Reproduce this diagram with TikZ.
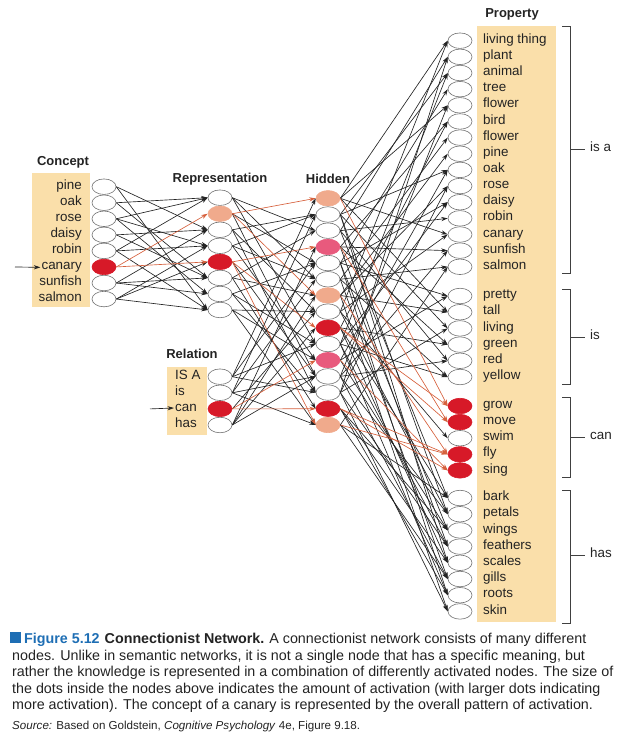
\documentclass[tikz,border=0pt]{standalone}
\usepackage{fontspec}
\setmainfont{Liberation Sans}
\usetikzlibrary{shapes.geometric,arrows.meta}
\definecolor{boxfill}{RGB}{250,223,170}
\definecolor{actred}{RGB}{215,25,40}
\definecolor{actsalmon}{RGB}{240,170,140}
\definecolor{actpink}{RGB}{232,90,125}
\definecolor{edgered}{RGB}{214,96,60}
\definecolor{capblue}{RGB}{30,110,180}
\definecolor{ink}{RGB}{35,35,35}
\tikzset{
  unit/.style={ellipse, draw=black!55, line width=0.6pt, minimum width=24pt, minimum height=15.5pt, inner sep=0pt, fill=white},
  ured/.style={unit, fill=actred, draw=actred},
  usal/.style={unit, fill=actsalmon, draw=actsalmon},
  upink/.style={unit, fill=actpink, draw=actpink},
  lbl/.style={font=\fontsize{13.4}{15}\selectfont, text=ink, inner sep=1pt},
  hdr/.style={font=\fontsize{13}{15}\selectfont\bfseries, text=ink, inner sep=1pt},
  conn/.style={-{Stealth[length=6.5pt,width=4.2pt]}, line width=0.65pt, draw=ink},
  rconn/.style={conn, draw=edgered},
  brk/.style={line width=0.9pt, draw=black!75},
  captxt/.style={font=\fontsize{14.3}{16}\selectfont, text=ink, inner sep=0pt, anchor=base west},
}
\begin{document}
\begin{tikzpicture}[x=1pt,y=-1pt]
\useasboundingbox (0,0) rectangle (625,743);
% boxes
\fill[boxfill] (32,173) rectangle (90,307);
\fill[boxfill] (167,367) rectangle (207,435);
\fill[boxfill] (477,26) rectangle (556,622);
% headers
\node[hdr] (hConcept) at (63,162) {Concept};
\node[hdr] (hRep) at (220,179) {Representation};
\node[hdr] (hHid) at (328,179) {Hidden};
\node[hdr] (hRel) at (192,354) {Relation};
\node[hdr] (hProp) at (512,14) {Property};
% concept
\foreach \t/\s [count=\i] in {pine/unit,oak/unit,rose/unit,daisy/unit,robin/unit,canary/ured,sunfish/unit,salmon/unit}{
  \node[\s] (c\i) at (104,{186.7+16.05*(\i-1)}) {};
  \node[lbl,anchor=mid east] (cl\i) at (83,{186.7+16.05*(\i-1)}) {\t};
}
% representation
\foreach \s [count=\i] in {unit,usal,unit,unit,ured,unit,unit,unit}{
  \node[\s] (r\i) at (220,{197.7+16.04*(\i-1)}) {};
}
% relation
\foreach \t/\s [count=\i] in {IS A/unit,is/unit,can/ured,has/unit}{
  \node[\s] (q\i) at (220,{376.7+16.1*(\i-1)}) {};
  \node[lbl,anchor=mid west] (ql\i) at (174,{376.7+16.1*(\i-1)}) {\t};
}
% hidden
\foreach \s [count=\i] in {usal,unit,unit,upink,unit,unit,usal,unit,ured,unit,upink,unit,unit,ured,usal}{
  \node[\s] (h\i) at (328,{198.3+16.19*(\i-1)}) {};
}
% property
\foreach \t [count=\i] in {living thing,plant,animal,tree,flower,bird,flower,pine,oak,rose,daisy,robin,canary,sunfish,salmon}{
  \node[unit] (p\i) at (460,{40.7+16.15*(\i-1)}) {};
  \node[lbl,anchor=mid west] (pl\i) at (482,{40.7+16.15*(\i-1)}) {\t};
}
\foreach \t [count=\j] in {pretty,tall,living,green,red,yellow}{
  \pgfmathtruncatemacro\k{\j+15}
  \node[unit] (p\k) at (460,{296+16.2*(\j-1)}) {};
  \node[lbl,anchor=mid west] (pl\k) at (482,{296+16.2*(\j-1)}) {\t};
}
\foreach \t/\s [count=\j] in {grow/ured,move/ured,swim/unit,fly/ured,sing/ured}{
  \pgfmathtruncatemacro\k{\j+21}
  \node[\s] (p\k) at (460,{406+16.1*(\j-1)}) {};
  \node[lbl,anchor=mid west] (pl\k) at (482,{406+16.1*(\j-1)}) {\t};
}
\foreach \t [count=\j] in {bark,petals,wings,feathers,scales,gills,roots,skin}{
  \pgfmathtruncatemacro\k{\j+26}
  \node[unit] (p\k) at (460,{498+16.2*(\j-1)}) {};
  \node[lbl,anchor=mid west] (pl\k) at (482,{498+16.2*(\j-1)}) {\t};
}
% input arrows
\coordinate (inA) at (15,{186.7+16.05*5});
\coordinate (inB) at (150,{376.7+16.1*2});
\draw[conn] (inA) -- (cl6.west);
\draw[conn] (inB) -- (ql3.west);
% concept -> representation
\foreach \a/\b in {1/3,1/8,2/1,2/6,3/1,3/4,3/7,4/3,4/6,5/4,5/8,5/1,7/3,7/6,7/7,8/4,8/5,8/8}{
  \draw[conn] (c\a.east) -- (r\b.west);
}
\foreach \a/\b in {6/2,6/5}{ \draw[rconn] (c\a.east) -- (r\b.west); }
% representation -> hidden
\foreach \a/\b in {1/3,1/6,1/10,2/5,2/12,3/2,3/8,3/13,4/6,4/11,4/2,5/12,6/3,6/7,6/14,7/5,7/10,7/13,8/8,8/11,8/15}{
  \draw[conn] (r\a.east) -- (h\b.west);
}
\foreach \a/\b in {2/1,2/7,5/4,5/9,5/15}{ \draw[rconn] (r\a.east) -- (h\b.west); }
% relation -> hidden
\foreach \a/\b in {1/1,1/5,1/10,1/13,2/2,2/6,2/12,2/15,3/8,4/4,4/7,4/9,4/12}{
  \draw[conn] (q\a.east) -- (h\b.west);
}
\foreach \a/\b in {3/11,3/14}{ \draw[rconn] (q\a.east) -- (h\b.west); }
% hidden -> property
\foreach \a/\b in {1/1,1/5,1/13,1/17,2/3,2/9,2/18,2/28,2/31,3/2,3/12,3/20,3/27,4/6,4/14,4/19,4/30,5/4,5/11,5/16,5/29,5/33,6/7,6/15,6/21,6/32,7/8,7/10,7/17,7/34,8/1,8/13,8/24,8/28,9/6,9/19,9/27,9/31,10/3,10/11,10/21,10/33,10/30,11/9,11/16,11/29,12/5,12/14,12/20,12/28,12/32,13/2,13/10,13/18,13/30,13/34,14/29,14/31,14/33,15/15,15/27,15/32}{
  \draw[conn] (h\a.east) -- (p\b.west);
}
\foreach \a/\b in {1/22,4/23,7/25,9/22,9/23,11/26,14/25,14/26,15/25}{
  \draw[rconn] (h\a.east) -- (p\b.west);
}
% brackets
\draw[brk] (562,26.7) -- (570,26.7) -- (570,273.3) -- (562,273.3);
\draw[brk] (570,149) -- (585,149);
\node[lbl,anchor=mid west] (bisa) at (589,149) {is a};
\draw[brk] (562,289.3) -- (570,289.3) -- (570,384) -- (562,384);
\draw[brk] (570,337) -- (585,337);
\node[lbl,anchor=mid west] (bis) at (589,337) {is};
\draw[brk] (562,397.3) -- (570,397.3) -- (570,477.3) -- (562,477.3);
\draw[brk] (570,437) -- (585,437);
\node[lbl,anchor=mid west] (bcan) at (589,437) {can};
\draw[brk] (562,490.7) -- (570,490.7) -- (570,623) -- (562,623);
\draw[brk] (570,555) -- (585,555);
\node[lbl,anchor=mid west] (bhas) at (589,555) {has};
% caption
\fill[capblue] (10,632) rectangle (21,643);
\node[captxt] (cap1) at (24,643) {\textcolor{capblue}{\bfseries Figure 5.12}\hspace{5pt}{\bfseries Connectionist Network.}\hspace{5pt}A connectionist network consists of many different};
\node[captxt] (cap2) at (12,660) {nodes. Unlike in semantic networks, it is not a single node that has a specific meaning, but};
\node[captxt] (cap3) at (12,676.5) {rather the knowledge is represented in a combination of differently activated nodes. The size of};
\node[captxt] (cap4) at (12,693) {the dots inside the nodes above indicates the amount of activation (with larger dots indicating};
\node[captxt] (cap5) at (12,709.5) {more activation). The concept of a canary is represented by the overall pattern of activation.};
\node[captxt,font=\fontsize{11.6}{13}\selectfont] (src) at (12,729) {\textit{Source:} Based on Goldstein, \textit{Cognitive Psychology} 4e, Figure 9.18.};
\end{tikzpicture}
\end{document}
